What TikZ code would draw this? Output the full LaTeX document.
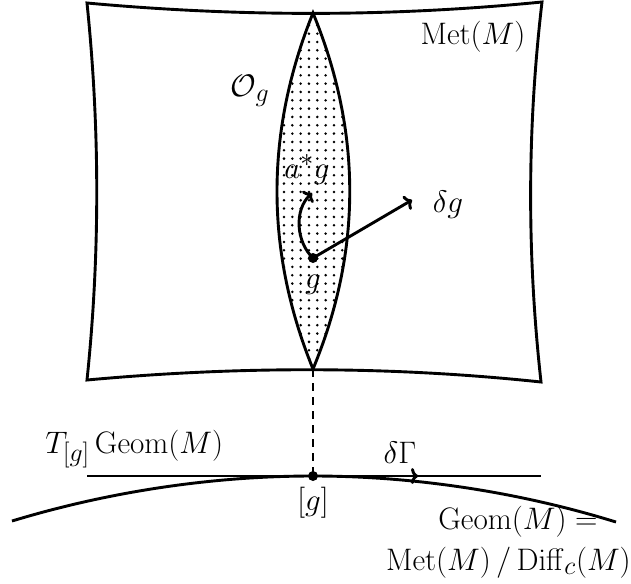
\documentclass[tikz,border=0pt]{standalone}
\usepackage{amsmath}
\usetikzlibrary{arrows.meta}
\tikzset{
  edge/.style={line width=2.9pt},
  lbl/.style={inner sep=0pt, scale=1.25, font=\fontsize{24.88}{30}\selectfont},
  tipped/.style={-{Computer Modern Rightarrow[length=7pt,width=16pt]}},
  bigdot/.style={circle, fill, inner sep=0pt, minimum size=10pt}
}
\begin{document}
\begin{tikzpicture}[x=1pt,y=-1pt]
\useasboundingbox (0,0) rectangle (631,583);
% corners of Met(M)
\coordinate (tl) at (87,3);
\coordinate (tr) at (542,2);
\coordinate (br) at (541,382);
\coordinate (bl) at (87,380);
% lens
\coordinate (ltop) at (313,13);
\coordinate (lbot) at (313,369);
% dotted fill of the orbit
\begin{scope}
  \clip (ltop) .. controls (265,132) and (265,251) .. (lbot)
        .. controls (362,251) and (362,132) .. (ltop) -- cycle;
  \foreach \i in {0,...,12}
    \foreach \j in {0,...,44}
      \fill ({259+8.33*\i},{17+8.33*\j}) circle (1.4);
\end{scope}
\draw[edge] (ltop) .. controls (265,132) and (265,251) .. (lbot)
            .. controls (362,251) and (362,132) .. (ltop) -- cycle;
% space of metrics
\draw[edge, line join=miter] (tl) .. controls (240,17) and (390,17) .. (tr)
  .. controls (527,130) and (527,255) .. (br)
  .. controls (390,366) and (240,366) .. (bl)
  .. controls (100,255) and (100,130) .. (tl) -- cycle;
% point g and vectors
\node[bigdot] (g) at (313,258) {};
\coordinate (dgtip) at (412,200);
\coordinate (agtip) at (312,193);
\draw[edge, tipped] (g.center) -- (dgtip);
\draw[edge, tipped] (g.center) .. controls (296,242) and (294,210) .. (agtip);
% labels upstairs
\node[lbl] (met) at (473,37) {$\mathrm{Met}(M)$};
\node[lbl] (orb) at (250,91) {$\mathcal{O}_g$};
\node[lbl, anchor=base] (ag) at (307,178) {$a^*g$};
\node[lbl] (glab) at (313,285) {$g$};
\node[lbl] (dglab) at (448,205) {$\delta g$};
% quotient
\coordinate (cl) at (12,521);
\coordinate (cr) at (616,522);
\coordinate (hl) at (87,476);
\coordinate (hr) at (541,476);
\node[bigdot] (gg) at (313,476) {};
\draw[edge] (hl) -- (hr);
\draw[edge] (cl) parabola bend (gg.center) (cr);
\draw[edge, dash pattern=on 8pt off 6pt] (lbot) -- (gg.center);
\coordinate (dGtip) at (418,476);
\draw[edge, tipped] (gg.center) -- (dGtip);
% labels downstairs
\node[lbl, anchor=base west] (tang) at (45,453) {$T_{[g]}\,\mathrm{Geom}(M)$};
\node[lbl] (dG) at (400,453) {$\delta\Gamma$};
\node[lbl] (cls) at (313,503) {$[g]$};
\node[lbl] (geo1) at (518,522) {$\mathrm{Geom}(M) =$};
\node[lbl, anchor=base east] (geo2) at (631,570) {$\mathrm{Met}(M)\,/\,\mathrm{Diff}_c(M)$};
\end{tikzpicture}
\end{document}
